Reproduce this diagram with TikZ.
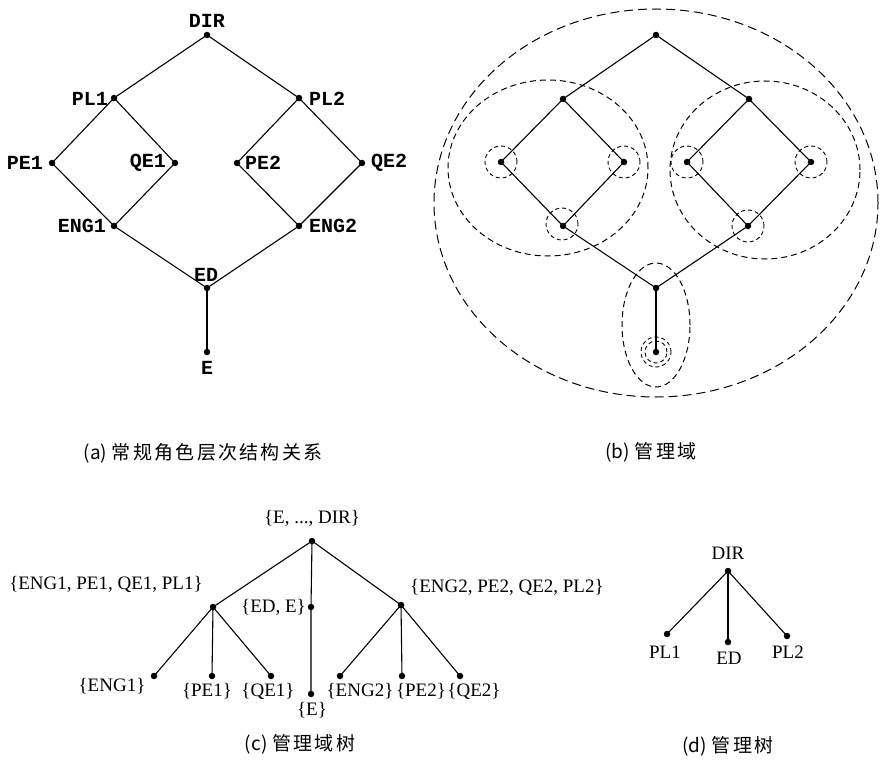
\documentclass[tikz,border=0pt]{standalone}
\usepackage{fontspec}
\setmainfont{Liberation Serif}
\newfontfamily\monob{Liberation Mono}
\newfontfamily\cjk[LetterSpace=12]{Noto Sans CJK SC}
\newfontfamily\cjkn{Noto Sans CJK SC}
\begin{document}
\begin{tikzpicture}[x=1pt,y=-1pt,
  dot/.style={circle,fill=black,inner sep=0pt,minimum size=6.5pt},
  edge/.style={line width=1.1pt},
  lblA/.style={font=\monob\bfseries\fontsize{20}{20}\selectfont,inner sep=0pt},
  lblC/.style={font=\fontsize{19}{19}\selectfont,inner sep=0pt},
  captxt/.style={font=\fontsize{19}{19}\selectfont,inner sep=0pt},
  domL/.style={line width=1pt,dash pattern=on 9pt off 5pt},
  domM/.style={line width=1pt,dash pattern=on 6pt off 4pt},
  domS/.style={line width=0.9pt,dash pattern=on 4pt off 3pt}]
\useasboundingbox (0,0) rectangle (880,762);

% ---------- (a) ----------
\node[dot] (aDIR) at (207,35) {};
\node[dot] (aPL1) at (114,98) {};
\node[dot] (aPL2) at (299,98) {};
\node[dot] (aPE1) at (52,163) {};
\node[dot] (aQE1) at (175,163) {};
\node[dot] (aPE2) at (237,163) {};
\node[dot] (aQE2) at (362,163) {};
\node[dot] (aENG1) at (114,226) {};
\node[dot] (aENG2) at (299,226) {};
\node[dot] (aED) at (207,288) {};
\node[dot] (aE) at (207,352) {};
\draw[edge] (aDIR.center) -- (aPL1.center) -- (aPE1.center) -- (aENG1.center) -- (aQE1.center) -- (aPL1.center);
\draw[edge] (aDIR.center) -- (aPL2.center) -- (aQE2.center) -- (aENG2.center) -- (aPE2.center) -- (aPL2.center);
\draw[edge] (aENG1.center) -- (aED.center) -- (aENG2.center);
\draw[edge] (aED.center) -- (aE.center);
\node[lblA] (tDIR) at (207,21) {DIR};
\node[lblA] (tPL1) at (90,99) {PL1};
\node[lblA] (tPL2) at (327,99) {PL2};
\node[lblA] (tPE1) at (25,163) {PE1};
\node[lblA] (tQE1) at (148,163) {QE1};
\node[lblA] (tPE2) at (263,163) {PE2};
\node[lblA] (tQE2) at (389,163) {QE2};
\node[lblA] (tENG1) at (82,226) {ENG1};
\node[lblA] (tENG2) at (333,226) {ENG2};
\node[lblA] (tED) at (206,275) {ED};
\node[lblA] (tE) at (207,368) {E};
\node[captxt] (capA) at (203,453) {{\cjkn (a)} {\cjk 常规角色层次结构关系}};

% ---------- (b) ----------
\node[dot] (bDIR) at (656,35) {};
\node[dot] (bPL1) at (563,99) {};
\node[dot] (bPL2) at (749,99) {};
\node[dot] (bPE1) at (501,162) {};
\node[dot] (bQE1) at (624,162) {};
\node[dot] (bPE2) at (687,162) {};
\node[dot] (bQE2) at (811,162) {};
\node[dot] (bENG1) at (563,226) {};
\node[dot] (bENG2) at (748,226) {};
\node[dot] (bED) at (656,288) {};
\node[dot] (bE) at (656,352) {};
\draw[edge] (bDIR.center) -- (bPL1.center) -- (bPE1.center) -- (bENG1.center) -- (bQE1.center) -- (bPL1.center);
\draw[edge] (bDIR.center) -- (bPL2.center) -- (bQE2.center) -- (bENG2.center) -- (bPE2.center) -- (bPL2.center);
\draw[edge] (bENG1.center) -- (bED.center) -- (bENG2.center);
\draw[edge] (bED.center) -- (bE.center);
\draw[domL] (656,203) ellipse [x radius=222pt, y radius=194pt];
\draw[domM] (548,168) ellipse [x radius=100pt, y radius=88pt];
\draw[domM] (765,170) ellipse [x radius=95pt, y radius=89pt];
\draw[domM] (656,325) ellipse [x radius=34pt, y radius=62pt];
\draw[domS] (bPE1) circle [radius=16pt];
\draw[domS] (bQE1) circle [radius=16pt];
\draw[domS] (562,224) circle [radius=16pt];
\draw[domS] (bPE2) circle [radius=16pt];
\draw[domS] (bQE2) circle [radius=16pt];
\draw[domS] (bENG2) circle [radius=16pt];
\draw[domS] (bE) circle [radius=15pt];
\draw[domS] (bE) circle [radius=11pt];
\node[captxt] (capB) at (651,452) {{\cjkn (b)} {\cjk 管理域}};

% ---------- (c) ----------
\node[dot] (cR) at (312,541) {};
\node[dot] (cL) at (213,607) {};
\node[dot] (cM) at (311,607) {};
\node[dot] (cRt) at (401,605) {};
\node[dot] (cENG1) at (154,676) {};
\node[dot] (cPE1) at (212,676) {};
\node[dot] (cQE1) at (271,676) {};
\node[dot] (cE) at (311,694) {};
\node[dot] (cENG2) at (340,676) {};
\node[dot] (cPE2) at (402,676) {};
\node[dot] (cQE2) at (460,676) {};
\draw[edge] (cR.center) -- (cL.center);
\draw[edge] (cR.center) -- (cM.center) -- (cE.center);
\draw[edge] (cR.center) -- (cRt.center);
\draw[edge] (cL.center) -- (cENG1.center);
\draw[edge] (cL.center) -- (cPE1.center);
\draw[edge] (cL.center) -- (cQE1.center);
\draw[edge] (cRt.center) -- (cENG2.center);
\draw[edge] (cRt.center) -- (cPE2.center);
\draw[edge] (cRt.center) -- (cQE2.center);
\node[lblC] (lR) at (312,518) {\{E, ..., DIR\}};
\node[lblC] (lL) at (106,584) {\{ENG1, PE1, QE1, PL1\}};
\node[lblC,anchor=east] (lM) at (306,607) {\{ED, E\}};
\node[lblC,anchor=west] (lRt) at (410,587) {\{ENG2, PE2, QE2, PL2\}};
\node[lblC] (lENG1) at (112,686) {\{ENG1\}};
\node[lblC] (lPE1) at (207,691) {\{PE1\}};
\node[lblC] (lQE1) at (268,691) {\{QE1\}};
\node[lblC] (lE) at (312,710) {\{E\}};
\node[lblC] (lENG2) at (360,691) {\{ENG2\}};
\node[lblC] (lPE2) at (421,691) {\{PE2\}};
\node[lblC] (lQE2) at (474,691) {\{QE2\}};
\node[captxt] (capC) at (300,744) {{\cjkn (c)} {\cjk 管理域树}};

% ---------- (d) ----------
\node[dot] (dDIR) at (728,571) {};
\node[dot] (dPL1) at (667,634) {};
\node[dot] (dED) at (728,642) {};
\node[dot] (dPL2) at (787,636) {};
\draw[edge] (dDIR.center) -- (dPL1.center);
\draw[edge] (dDIR.center) -- (dED.center);
\draw[edge] (dDIR.center) -- (dPL2.center);
\node[lblC] (mDIR) at (728,553) {DIR};
\node[lblC] (mPL1) at (665,652) {PL1};
\node[lblC] (mED) at (729,658) {ED};
\node[lblC] (mPL2) at (788,652) {PL2};
\node[captxt] (capD) at (728,746) {{\cjkn (d)} {\cjk 管理树}};
\end{tikzpicture}
\end{document}
